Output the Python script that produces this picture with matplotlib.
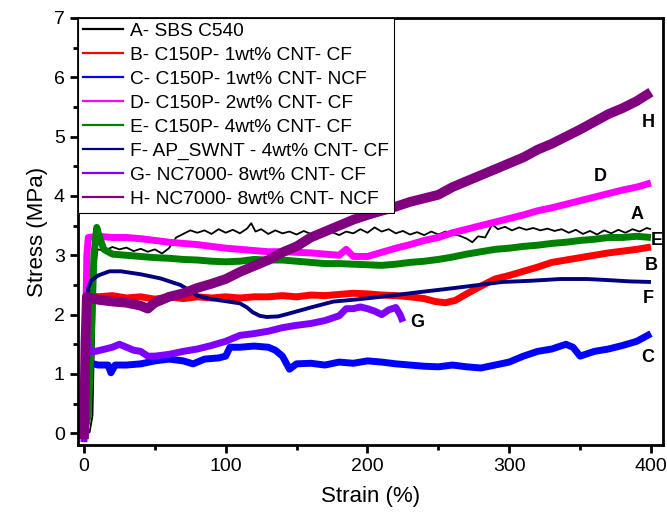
import matplotlib
matplotlib.use("Agg")
import matplotlib.pyplot as plt
from matplotlib.ticker import MultipleLocator

plt.rcParams['font.family'] = ['Liberation Sans', 'DejaVu Sans']

# ---- data ----
labels = ['A- SBS C540', 'B- C150P- 1wt% CNT- CF', 'C- C150P- 1wt% CNT- NCF',
          'D- C150P- 2wt% CNT- CF', 'E- C150P- 4wt% CNT- CF',
          'F- AP_SWNT - 4wt% CNT- CF', 'G- NC7000- 8wt% CNT- CF',
          'H- NC7000- 8wt% CNT- NCF']
colors = ['black', 'red', 'blue', 'magenta', 'green', 'navy', '#8000ff', 'purple']
letters = ['A', 'B', 'C', 'D', 'E', 'F', 'G', 'H']

A_x = [0, 4, 6, 7, 8, 9.5, 15, 20, 25, 30, 35, 40, 45, 50, 55, 60, 65, 70, 75, 80,
       85, 90, 95, 100, 105, 110, 115, 118, 121, 125, 130, 135, 140, 145, 150, 155,
       160, 165, 170, 175, 180, 185, 190, 195, 200, 205, 210, 215, 220, 225, 230,
       235, 240, 245, 250, 255, 260, 265, 270, 274, 278, 283, 288, 292, 297, 302,
       307, 312, 317, 322, 327, 332, 337, 342, 347, 352, 357, 362, 367, 372, 377,
       382, 387, 392, 397, 400]
A_y = [-0.05, 0.02, 0.3, 1.5, 2.8, 3.1, 3.08, 3.14, 3.1, 3.13, 3.07, 3.11, 3.06,
       3.1, 3.03, 3.12, 3.3, 3.36, 3.42, 3.38, 3.42, 3.36, 3.44, 3.38, 3.43, 3.37,
       3.45, 3.54, 3.4, 3.44, 3.36, 3.42, 3.37, 3.4, 3.35, 3.41, 3.36, 3.4, 3.35,
       3.39, 3.34, 3.4, 3.37, 3.44, 3.38, 3.47, 3.4, 3.44, 3.37, 3.41, 3.35, 3.39,
       3.34, 3.4, 3.35, 3.4, 3.36, 3.33, 3.28, 3.22, 3.32, 3.3, 3.52, 3.44, 3.48,
       3.42, 3.47, 3.43, 3.46, 3.42, 3.45, 3.41, 3.44, 3.38, 3.43, 3.36, 3.41,
       3.35, 3.42, 3.37, 3.43, 3.38, 3.44, 3.4, 3.46, 3.44]

B_x = [0, 1, 2, 3, 5, 10, 20, 30, 40, 50, 60, 70, 80, 90, 100, 110, 120, 130, 140,
       150, 160, 170, 180, 190, 200, 210, 220, 230, 240, 248, 255, 262, 270, 280,
       290, 300, 310, 320, 330, 340, 350, 360, 370, 380, 390, 400]
B_y = [0, 1.5, 2.5, 2.45, 2.32, 2.3, 2.32, 2.28, 2.3, 2.26, 2.3, 2.27, 2.3, 2.28,
       2.3, 2.28, 2.3, 2.3, 2.32, 2.3, 2.33, 2.32, 2.34, 2.36, 2.35, 2.33, 2.32,
       2.3, 2.27, 2.22, 2.2, 2.24, 2.35, 2.48, 2.6, 2.66, 2.73, 2.8, 2.88, 2.92,
       2.96, 3.0, 3.04, 3.07, 3.1, 3.14]

C_x = [0, 1, 2, 3, 5, 10, 17, 19, 22, 30, 40, 50, 60, 70, 77, 85, 95, 100, 103,
       110, 120, 130, 135, 140, 145, 150, 160, 170, 180, 190, 200, 210, 220, 230,
       240, 250, 260, 270, 280, 290, 300, 310, 320, 330, 340, 345, 350, 360, 370,
       380, 390, 400]
C_y = [0, 0.8, 1.2, 1.3, 1.18, 1.15, 1.15, 1.02, 1.15, 1.15, 1.17, 1.22, 1.25,
       1.22, 1.17, 1.25, 1.27, 1.3, 1.45, 1.45, 1.47, 1.45, 1.4, 1.3, 1.08, 1.17,
       1.18, 1.15, 1.2, 1.18, 1.22, 1.2, 1.17, 1.15, 1.13, 1.12, 1.15, 1.12, 1.1,
       1.15, 1.2, 1.3, 1.38, 1.42, 1.5, 1.45, 1.3, 1.38, 1.42, 1.48, 1.55, 1.68]

D_x = [0, 1, 2, 3, 10, 20, 30, 40, 50, 60, 70, 80, 90, 100, 110, 120, 130, 140,
       150, 160, 170, 180, 185, 190, 200, 210, 220, 230, 240, 250, 260, 270, 280,
       290, 300, 310, 320, 330, 340, 350, 360, 370, 380, 390, 400]
D_y = [0, 1.5, 3.0, 3.3, 3.32, 3.3, 3.3, 3.28, 3.25, 3.22, 3.2, 3.18, 3.15, 3.12,
       3.1, 3.08, 3.06, 3.06, 3.05, 3.04, 3.02, 3.0, 3.1, 2.98, 2.98, 3.05, 3.12,
       3.18, 3.25, 3.3, 3.38, 3.44, 3.5, 3.56, 3.62, 3.68, 3.75, 3.8, 3.86, 3.92,
       3.98, 4.04, 4.1, 4.15, 4.22]

E_x = [0, 3, 5, 7, 9, 11, 14, 20, 30, 40, 50, 60, 70, 80, 90, 100, 110, 120, 130,
       140, 150, 160, 170, 180, 190, 200, 210, 220, 230, 240, 250, 260, 270, 280,
       290, 300, 310, 320, 330, 340, 350, 360, 370, 380, 390, 400]
E_y = [0, 0.3, 1.5, 3.0, 3.47, 3.3, 3.1, 3.02, 3.0, 2.98, 2.96, 2.95, 2.93, 2.92,
       2.9, 2.89, 2.9, 2.93, 2.92, 2.92, 2.9, 2.88, 2.86, 2.86, 2.85, 2.84, 2.83,
       2.85, 2.88, 2.9, 2.93, 2.97, 3.02, 3.06, 3.1, 3.12, 3.15, 3.17, 3.2, 3.22,
       3.25, 3.27, 3.3, 3.3, 3.32, 3.3]

F_x = [0, 2, 3, 5, 10, 18, 26, 40, 54, 68, 75, 80, 88, 96, 110, 115, 119, 124,
       129, 137, 145, 160, 176, 190, 202, 220, 237, 255, 272, 295, 315, 336, 355,
       371, 385, 400]
F_y = [0, 1.8, 2.45, 2.57, 2.66, 2.73, 2.73, 2.68, 2.61, 2.5, 2.4, 2.32, 2.27,
       2.24, 2.19, 2.12, 2.04, 1.98, 1.96, 1.97, 2.02, 2.12, 2.22, 2.25, 2.28,
       2.33, 2.38, 2.43, 2.48, 2.55, 2.57, 2.6, 2.6, 2.58, 2.56, 2.55]

G_x = [0, 1, 2, 4, 8, 15, 20, 25, 30, 35, 40, 45, 50, 60, 70, 80, 90, 100, 105,
       110, 120, 130, 140, 150, 160, 170, 180, 185, 190, 195, 200, 205, 210, 215,
       220, 223, 225]
G_y = [-0.15, 1.0, 1.6, 1.38, 1.38, 1.42, 1.45, 1.5, 1.45, 1.4, 1.38, 1.3, 1.3,
       1.33, 1.38, 1.42, 1.48, 1.55, 1.6, 1.65, 1.68, 1.72, 1.78, 1.82, 1.85, 1.9,
       1.98, 2.1, 2.1, 2.13, 2.1, 2.06, 2.0, 2.08, 2.12, 2.0, 1.88]

H_x = [0, 1, 2, 5, 10, 20, 30, 40, 45, 50, 60, 70, 80, 90, 100, 110, 120, 130,
       140, 150, 160, 170, 180, 190, 200, 210, 220, 230, 240, 250, 260, 270, 280,
       290, 300, 310, 320, 330, 340, 350, 360, 370, 380, 390, 400]
H_y = [-0.1, 1.5, 2.3, 2.28, 2.25, 2.22, 2.2, 2.15, 2.1, 2.2, 2.3, 2.36, 2.45,
       2.52, 2.6, 2.72, 2.82, 2.92, 3.05, 3.15, 3.3, 3.4, 3.5, 3.6, 3.68, 3.75,
       3.82, 3.9, 3.96, 4.02, 4.15, 4.25, 4.35, 4.45, 4.55, 4.65, 4.78, 4.88, 5.0,
       5.12, 5.25, 5.38, 5.48, 5.6, 5.75]

# curve letter positions (strain, stress)
letter_x = [390, 400, 398, 364, 404, 398, 235, 398]
letter_y = [3.68, 2.83, 1.28, 4.32, 3.25, 2.28, 1.86, 5.24]

xs = [A_x, B_x, C_x, D_x, E_x, F_x, G_x, H_x]
ys = [A_y, B_y, C_y, D_y, E_y, F_y, G_y, H_y]
widths = [1.3, 5, 5, 5, 5, 2.8, 5, 7]

fig = plt.figure(figsize=(6.67, 5.14), dpi=100)
ax = fig.add_axes([0.117, 0.134, 0.877, 0.831])

handles = []
for x, y, c, lw, lab in zip(xs, ys, colors, widths, labels):
    ax.plot(x, y, color=c, lw=lw, solid_joinstyle='round', solid_capstyle='butt')
    h, = ax.plot([], [], color=c, lw=1.6, label=lab)
    handles.append(h)

for t, lx, ly in zip(letters, letter_x, letter_y):
    ax.text(lx, ly, t, fontsize=13, fontweight='bold', ha='center', va='center')

ax.set_xlim(-4.2, 408.5)
ax.set_ylim(-0.2, 7)
ax.xaxis.set_major_locator(MultipleLocator(100))
ax.xaxis.set_minor_locator(MultipleLocator(50))
ax.yaxis.set_major_locator(MultipleLocator(1))
ax.yaxis.set_minor_locator(MultipleLocator(0.5))
ax.tick_params(which='major', direction='out', length=6, width=2, labelsize=14)
ax.tick_params(which='minor', direction='out', length=3.5, width=2)
for s in ax.spines.values():
    s.set_linewidth(2)

ax.set_xlabel('Strain (%)', fontsize=16, labelpad=8)
ax.set_ylabel('Stress (MPa)', fontsize=16)

leg = ax.legend(handles=handles, loc='upper left', bbox_to_anchor=(0, 1),
                borderaxespad=0, fancybox=False, edgecolor='black', fontsize=13.8,
                handlelength=2.1, handletextpad=0.37, labelspacing=0.34,
                borderpad=0.25, framealpha=1)
leg.get_frame().set_linewidth(0.8)

fig.savefig('out.png', dpi=100)
